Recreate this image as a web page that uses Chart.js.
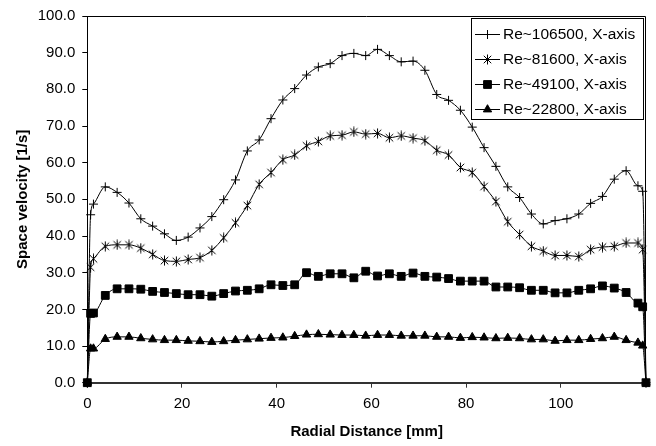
<!DOCTYPE html>
<html>
<head>
<meta charset="utf-8">
<script src="https://cdn.jsdelivr.net/npm/chart.js@4/dist/chart.umd.min.js"></script>
<style>
  html, body { margin: 0; padding: 0; background: #fff; }
  canvas { display: block; }
</style>
</head>
<body>
<canvas id="chart" width="656" height="446"></canvas>
<script>
// Radial measurement positions [mm]
const radialDistance = [0, 0.7, 1.3, 3.8, 6.3, 8.8, 11.3, 13.8, 16.3, 18.8, 21.3, 23.8, 26.3, 28.8, 31.3, 33.8,
  36.3, 38.8, 41.3, 43.8, 46.3, 48.8, 51.3, 53.8, 56.3, 58.8, 61.3, 63.8, 66.3, 68.8, 71.3, 73.8, 76.3, 78.8,
  81.3, 83.8, 86.3, 88.8, 91.3, 93.8, 96.3, 98.8, 101.3, 103.8, 106.3, 108.8, 111.3, 113.8, 116.3, 117.3, 118];

// Space velocity [1/s] for each Reynolds number
const re106500 = [0, 45.8, 48.7, 53.4, 51.9, 49.0, 44.7, 42.7, 40.6, 38.8, 39.7, 42.2, 45.3, 49.9, 55.3, 63.2,
  66.2, 72.0, 77.1, 80.2, 83.9, 86.1, 87.0, 89.2, 89.8, 89.2, 90.9, 89.2, 87.5, 87.7, 85.2, 78.6, 77.0, 74.3,
  69.7, 64.1, 59.0, 53.4, 50.5, 46.0, 43.3, 44.2, 44.7, 46.0, 48.9, 50.8, 55.5, 57.8, 53.7, 52.2, 0];
const re81600 = [0, 31.5, 33.8, 37.2, 37.6, 37.6, 36.7, 35.0, 33.3, 33.1, 33.6, 34.1, 36.1, 39.5, 43.6, 48.3,
  54.1, 57.3, 60.8, 62.1, 64.6, 65.8, 67.3, 67.5, 68.4, 67.8, 68.0, 66.8, 67.3, 66.7, 66.0, 63.4, 62.1, 58.7,
  57.3, 53.5, 49.4, 43.9, 40.4, 37.2, 35.9, 34.7, 34.7, 34.4, 36.3, 37.0, 37.2, 38.1, 38.1, 36.3, 0];
const re49100 = [0, 18.9, 19.0, 23.8, 25.6, 25.6, 25.5, 24.9, 24.6, 24.3, 24.0, 24.0, 23.6, 24.3, 25.0, 25.2,
  25.6, 26.7, 26.5, 26.7, 30.0, 29.0, 29.7, 29.7, 28.6, 30.4, 29.1, 29.7, 29.0, 29.9, 29.0, 28.8, 28.4, 27.7,
  27.7, 27.7, 26.1, 26.1, 25.9, 25.2, 25.2, 24.5, 24.5, 25.2, 25.6, 26.4, 25.8, 24.6, 21.7, 20.7, 0];
const re22800 = [0, 9.3, 9.3, 11.9, 12.5, 12.5, 12.1, 11.8, 11.6, 11.6, 11.4, 11.3, 11.1, 11.3, 11.6, 11.8,
  12.0, 12.2, 12.3, 12.7, 13.1, 13.2, 13.1, 13.0, 13.0, 12.8, 13.0, 13.0, 12.8, 12.8, 12.8, 12.5, 12.5, 12.2,
  12.4, 12.3, 12.1, 12.2, 12.1, 11.8, 11.8, 11.4, 11.6, 11.6, 11.9, 12.1, 12.5, 11.6, 10.9, 10.1, 0];

const seriesLabels = ['Re~106500, X-axis', 'Re~81600, X-axis', 'Re~49100, X-axis', 'Re~22800, X-axis'];

const FONT = '"Liberation Sans", Arial, Helvetica, sans-serif';

// Asterisk marker: an X with a vertical stroke
function asteriskMarker(size) {
  const c = document.createElement('canvas');
  c.width = size; c.height = size;
  const g = c.getContext('2d');
  const m = size / 2, r = size / 2 - 0.5, d = r * 0.75;
  g.strokeStyle = '#000';
  g.lineWidth = 1;
  g.beginPath();
  g.moveTo(m, m - r); g.lineTo(m, m + r);
  g.moveTo(m - d, m - d); g.lineTo(m + d, m + d);
  g.moveTo(m - d, m + d); g.lineTo(m + d, m - d);
  g.stroke();
  return c;
}
const starMarker = asteriskMarker(11);

function toPoints(values) {
  return values.map((v, i) => ({ x: radialDistance[i], y: v }));
}

function series(label, values, style, radius, order) {
  return {
    label,
    data: toPoints(values),
    borderColor: '#000',
    backgroundColor: '#000',
    borderWidth: 1,
    pointStyle: style,
    pointRadius: radius,
    pointBorderWidth: 1,
    pointBorderColor: '#000',
    pointBackgroundColor: '#000',
    clip: false,
    order
  };
}

// Top and right edges of the plot frame
const plotFrame = {
  id: 'plotFrame',
  beforeDatasetsDraw(chart) {
    const { ctx, chartArea: a } = chart;
    ctx.save();
    ctx.strokeStyle = '#000';
    ctx.lineWidth = 1;
    ctx.beginPath();
    ctx.moveTo(a.left, Math.round(a.top) + 0.5);
    ctx.lineTo(Math.round(a.right) - 0.5, Math.round(a.top) + 0.5);
    ctx.lineTo(Math.round(a.right) - 0.5, a.bottom);
    ctx.stroke();
    ctx.restore();
  }
};

// Boxed legend in the upper right corner, line sample with marker
const boxLegend = {
  id: 'boxLegend',
  afterDraw(chart) {
    const { ctx, chartArea: a } = chart;
    const w = 172, h = 101;
    const right = Math.round(a.right) - 3;
    const top = Math.round(a.top) + 2;
    const left = right - w;
    ctx.save();
    ctx.fillStyle = '#fff';
    ctx.fillRect(left, top, w, h);
    ctx.strokeStyle = '#000';
    ctx.lineWidth = 1;
    ctx.strokeRect(left + 0.5, top + 0.5, w, h);
    ctx.font = '15.5px ' + FONT;
    ctx.textBaseline = 'middle';
    ctx.textAlign = 'left';
    chart.data.datasets.forEach((ds, i) => {
      const y = Math.round(top + 15.5 + i * 25) + 0.5;
      ctx.strokeStyle = '#000';
      ctx.fillStyle = '#000';
      ctx.lineWidth = 1;
      ctx.beginPath();
      ctx.moveTo(left + 4, y);
      ctx.lineTo(left + 29, y);
      ctx.stroke();
      Chart.helpers.drawPoint(ctx, {
        pointStyle: ds.pointStyle, radius: ds.pointRadius, rotation: 0, borderWidth: 1
      }, left + 16.5, y);
      ctx.fillStyle = '#000';
      ctx.fillText(ds.label, left + 32, y);
    });
    ctx.restore();
  }
};

new Chart(document.getElementById('chart'), {
  type: 'line',
  data: {
    datasets: [
      series(seriesLabels[0], re106500, 'cross', 4.5, 4),
      series(seriesLabels[1], re81600, starMarker, 5.5, 3),
      series(seriesLabels[2], re49100, 'rect', 5.5, 2),
      series(seriesLabels[3], re22800, 'triangle', 4.8, 1)
    ]
  },
  options: {
    responsive: false,
    animation: false,
    devicePixelRatio: 1,
    events: [],
    layout: { padding: { top: 15, right: 10, left: 0, bottom: 0 } },
    elements: { line: { cubicInterpolationMode: 'monotone', fill: false } },
    plugins: { legend: { display: false }, tooltip: { enabled: false } },
    scales: {
      x: {
        type: 'linear',
        min: 0,
        max: 118,
        afterFit(scale) { scale.height = 63.3; },
        ticks: {
          stepSize: 20,
          includeBounds: false,
          color: '#000',
          padding: 7,
          maxRotation: 0,
          font: { family: FONT, size: 15 }
        },
        grid: { drawOnChartArea: false, drawTicks: true, tickLength: 5, color: '#333', lineWidth: 1 },
        border: { display: true, color: '#333', width: 2 },
        title: {
          display: true,
          text: 'Radial Distance [mm]',
          color: '#000',
          font: { family: FONT, size: 15, weight: 'bold' },
          padding: { top: 0, bottom: 5 }
        }
      },
      y: {
        type: 'linear',
        min: 0,
        max: 100,
        afterFit(scale) { scale.width = 87.3; },
        ticks: {
          stepSize: 10,
          color: '#000',
          padding: 7,
          font: { family: FONT, size: 15 },
          callback: v => Number(v).toFixed(1)
        },
        grid: { drawOnChartArea: false, drawTicks: true, tickLength: 5, color: '#000', lineWidth: 1 },
        border: { display: true, color: '#000', width: 1 },
        title: {
          display: true,
          text: 'Space velocity [1/s]',
          color: '#000',
          font: { family: FONT, size: 15, weight: 'bold' },
          padding: { top: 14, bottom: 0 }
        }
      }
    }
  },
  plugins: [plotFrame, boxLegend]
});
</script>
</body>
</html>
